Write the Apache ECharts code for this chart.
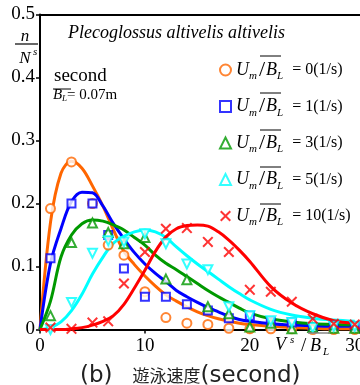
<!DOCTYPE html>
<html>
<head>
<meta charset="utf-8">
<script src="https://cdn.jsdelivr.net/npm/echarts@6/dist/echarts.min.js"></script>
<style>
  html, body { margin: 0; padding: 0; background: #fff; }
  #chart { width: 360px; height: 385px; }
</style>
</head>
<body>
<div id="chart"></div>
<script>
// observed swimming speed bins V^s/B_L
const speedX = [1, 3, 5, 6.5, 8, 10, 12, 14, 16, 18, 20, 22, 24, 26, 28, 30];
const obs0 = [0.192, 0.266, 0.200, 0.134, 0.118, 0.060, 0.019, 0.010, 0.008, 0.002, 0.001, 0.001, 0.001, 0.000, 0.000, 0.000];
const obs1 = [0.113, 0.200, 0.200, 0.150, 0.097, 0.052, 0.052, 0.040, 0.030, 0.018, 0.022, 0.012, 0.011, 0.003, 0.006, 0.005];
const obs3 = [0.022, 0.138, 0.169, 0.154, 0.136, 0.146, 0.080, 0.079, 0.036, 0.025, 0.004, 0.010, 0.001, 0.003, 0.002, 0.002];
const obs5 = [0.000, 0.043, 0.121, 0.141, 0.139, 0.152, 0.136, 0.104, 0.095, 0.036, 0.022, 0.014, 0.011, 0.003, 0.005, 0.005];
const obs10 = [0.003, 0.001, 0.011, 0.013, 0.073, 0.123, 0.160, 0.161, 0.139, 0.123, 0.063, 0.060, 0.044, 0.017, 0.009, 0.008];

// fitted curves
const curveX = [0, 1, 2, 3, 4, 5, 6, 7, 8, 9, 10, 11, 12, 13, 14, 15, 16, 17, 18, 19, 20, 22, 24, 26, 28, 30];
const fit0 = [0, 0.170, 0.248, 0.267, 0.256, 0.228, 0.196, 0.158, 0.124, 0.103, 0.085, 0.069, 0.055, 0.045, 0.036, 0.028, 0.022, 0.017, 0.013, 0.010, 0.008, 0.005, 0.003, 0.002, 0.001, 0.001];
const fit1 = [0, 0.105, 0.160, 0.203, 0.218, 0.217, 0.196, 0.168, 0.144, 0.122, 0.104, 0.089, 0.076, 0.062, 0.052, 0.043, 0.035, 0.028, 0.021, 0.016, 0.013, 0.009, 0.007, 0.006, 0.005, 0.005];
const fit3 = [0, 0.045, 0.115, 0.150, 0.168, 0.174, 0.172, 0.166, 0.158, 0.146, 0.134, 0.118, 0.105, 0.095, 0.084, 0.073, 0.062, 0.052, 0.043, 0.034, 0.026, 0.017, 0.012, 0.009, 0.008, 0.007];
const fit5 = [0, 0.003, 0.012, 0.030, 0.056, 0.088, 0.115, 0.137, 0.148, 0.155, 0.158, 0.155, 0.146, 0.131, 0.117, 0.104, 0.092, 0.080, 0.068, 0.057, 0.047, 0.032, 0.023, 0.018, 0.015, 0.013];
const fit10 = [0, 0, 0, 0.001, 0.003, 0.007, 0.013, 0.022, 0.040, 0.066, 0.094, 0.124, 0.147, 0.160, 0.165, 0.166, 0.164, 0.155, 0.142, 0.126, 0.108, 0.068, 0.042, 0.025, 0.014, 0.010];

const flowValues = ['0', '1', '3', '5', '10'];
const xTicks = [0, 10, 20, 30];

const SERIF = "'Liberation Serif', 'DejaVu Serif', serif";
const colors = ['#ff6600', '#0000ff', '#009900', '#00ffff', '#ff0000'];
const symbols = ['emptyCircle', 'emptyRect', 'emptyTriangle', 'emptyTriangle',
  'path://M0,1.3 L1.3,0 L5,3.7 L8.7,0 L10,1.3 L6.3,5 L10,8.7 L8.7,10 L5,6.3 L1.3,10 L0,8.7 L3.7,5 Z'];
const rotates = [0, 0, 0, 180, 0];
const sizes = [9, 8, 9, 9, 11];

const obsAll = [obs0, obs1, obs3, obs5, obs10];
const fitAll = [fit0, fit1, fit3, fit5, fit10];

const pair = (xs, ys) => xs.map((x, i) => [x, ys[i]]);

const chart = echarts.init(document.getElementById('chart'));

const curveSeries = fitAll.map((ys, i) => ({
  name: 'fit' + flowValues[i],
  type: 'line',
  data: pair(curveX, ys),
  smooth: 0.35,
  showSymbol: false,
  symbol: 'none',
  lineStyle: { color: colors[i], width: 3 },
  z: 2,
  silent: true
}));

const pointSeries = obsAll.map((ys, i) => ({
  name: flowValues[i],
  type: 'scatter',
  data: pair(speedX, ys),
  symbol: symbols[i],
  symbolRotate: rotates[i],
  symbolSize: sizes[i],
  itemStyle: { color: colors[i], borderWidth: i === 4 ? 0 : 2 },
  z: 3
}));

const line = (x1, y1, x2, y2, color, w) => ({
  type: 'line', shape: { x1, y1, x2, y2 },
  style: { stroke: color || '#000', lineWidth: w || 1.2 }, z: 100
});
const txt = (x, y, text, font, align) => ({
  type: 'text', x, y, z: 100,
  style: { text, font, fill: '#000', textAlign: align || 'left', align: align || 'left',
    textVerticalAlign: 'middle', verticalAlign: 'middle' }
});

const legendY = [68, 105, 142, 179, 216];

const options = {
  animation: false,
  grid: { left: 40, right: 0, top: 14.5, bottom: 55.5, containLabel: false, outerBoundsMode: 'none' },
  xAxis: [{
    type: 'value', min: 0, max: 30.5, interval: 10,
    axisLine: { lineStyle: { color: '#000', width: 2 } },
    axisTick: { length: 4, lineStyle: { color: '#000', width: 1.5 } },
    splitLine: { show: false },
    axisLabel: {
      color: '#000', fontFamily: SERIF, fontSize: 19, margin: 7, hideOverlap: false,
      formatter: v => (xTicks.includes(v) ? String(v) : '')
    }
  }, {
    type: 'value', min: 0, max: 30.5, position: 'top',
    axisLine: { show: true, lineStyle: { color: '#000', width: 2 } },
    axisTick: { show: false }, axisLabel: { show: false }, splitLine: { show: false }
  }],
  yAxis: {
    type: 'value', min: 0, max: 0.5, interval: 0.1,
    axisLine: { show: true, lineStyle: { color: '#000', width: 2 } },
    axisTick: { show: true, length: 4, lineStyle: { color: '#000', width: 1.5 } },
    splitLine: { show: false },
    axisLabel: {
      color: '#000', fontFamily: SERIF, fontSize: 19, margin: 5,
      formatter: v => (v === 0 ? '0' : v.toFixed(1))
    }
  },
  legend: {
    orient: 'vertical', left: 214, top: 54,
    itemWidth: 11, itemHeight: 11, itemGap: 13.5,
    symbolRotate: 'inherit',
    data: flowValues,
    formatter: name => `{u|U}{m|m}{sl|/}{b|B}{l|L}{t|= ${name}(1/s)}`,
    textStyle: {
      color: '#000',
      rich: {
        u: { fontFamily: SERIF, fontStyle: 'italic', fontSize: 18, lineHeight: 24 },
        m: { fontFamily: SERIF, fontStyle: 'italic', fontSize: 11, lineHeight: 24, verticalAlign: 'bottom', padding: [0, 2, 0, 0] },
        sl: { fontFamily: SERIF, fontSize: 22, lineHeight: 24, padding: [0, 1, 0, 0] },
        b: { fontFamily: SERIF, fontStyle: 'italic', fontSize: 18, lineHeight: 24 },
        l: { fontFamily: SERIF, fontStyle: 'italic', fontSize: 11, lineHeight: 24, verticalAlign: 'bottom' },
        t: { fontFamily: SERIF, fontSize: 16, lineHeight: 24, padding: [0, 0, 0, 9] }
      }
    }
  },
  graphic: [
    // y axis title n / N^s
    txt(25, 37, 'n', 'italic 17px ' + SERIF, 'center'),
    line(15, 44, 38, 44, '#000', 1.2),
    txt(25, 59, 'N', 'italic 17px ' + SERIF, 'center'),
    txt(33, 52, 's', 'italic 11px ' + SERIF, 'left'),
    // in-plot annotation
    txt(68, 33, 'Plecoglossus altivelis altivelis', 'italic 18px ' + SERIF, 'left'),
    txt(54, 76, 'second', '19px ' + SERIF, 'left'),
    txt(53, 95, 'B', 'italic 15px ' + SERIF, 'left'),
    txt(62, 99, 'L', 'italic 9px ' + SERIF, 'left'),
    txt(67, 95, '= 0.07m', '15px ' + SERIF, 'left'),
    line(53, 89, 71, 89, '#000', 1),
    // x axis title V^s / B_L
    txt(275, 345, 'V', 'italic 18px ' + SERIF, 'left'),
    txt(290, 340, 's', 'italic 11px ' + SERIF, 'left'),
    txt(301, 346, '/', '19px ' + SERIF, 'left'),
    txt(310, 346, 'B', 'italic 18px ' + SERIF, 'left'),
    txt(323, 352, 'L', 'italic 11px ' + SERIF, 'left'),
    line(308, 333, 330, 333, '#888', 1.5),
    // overlines on legend B_L
    ...legendY.map(y => line(260, y - 12, 281, y - 12, '#000', 1)),
    // caption
    {
      type: 'text', x: 80, y: 376, z: 100,
      style: {
        text: '{a|(b)}{c|遊泳速度}{a|(second)}',
        textVerticalAlign: 'middle', verticalAlign: 'middle',
        rich: {
          a: { fontFamily: "'DejaVu Sans', sans-serif", fontSize: 23, fill: '#222', color: '#222' },
          c: { fontFamily: "'Noto Sans CJK JP', sans-serif", fontSize: 17, fill: '#222', color: '#222', padding: [0, 0, 0, 20] }
        }
      }
    }
  ],
  series: [...curveSeries, ...pointSeries]
};

chart.setOption(options);
</script>
</body>
</html>
